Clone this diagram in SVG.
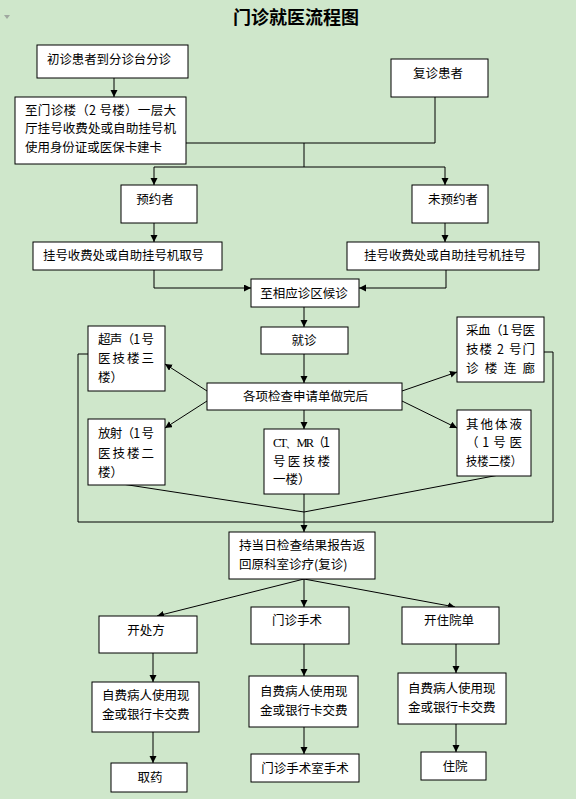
<svg xmlns="http://www.w3.org/2000/svg" width="576" height="799" viewBox="0 0 576 799">
<style>
.bg{fill:#cfe7cb}
.box{fill:#ffffff;stroke:#000000;stroke-width:1}
.t{font-family:"Noto Sans CJK SC","Liberation Sans",sans-serif;font-size:12.5px;fill:#000000}
.c{text-anchor:middle}
.title{font-family:"Noto Sans CJK SC","Liberation Sans",sans-serif;font-size:18px;font-weight:bold;fill:#000000;text-anchor:middle}
.ln{fill:none;stroke:#000000;stroke-width:1}
.ar{fill:none;stroke:#000000;stroke-width:1;marker-end:url(#ah)}
</style>
<defs>
<marker id="ah" markerUnits="userSpaceOnUse" markerWidth="8" markerHeight="8" refX="7" refY="3.5" orient="auto">
<path d="M0,0 L7,3.5 L0,7 Z" fill="#000000"/>
</marker>
</defs>
<rect class="bg" x="0" y="0" width="576" height="799"/>
<polygon points="4,15 10,15 7,19" fill="#a0a8a0"/>
<text class="title" x="296" y="24">门诊就医流程图</text>

<g id="connectors">
<line class="ar" x1="114" y1="78" x2="114" y2="97"/>
<polyline class="ln" points="186,143 435,143 435,97"/>
<line class="ln" x1="304" y1="143" x2="304" y2="167"/>
<line class="ln" x1="154" y1="167" x2="445" y2="167"/>
<line class="ar" x1="154" y1="167" x2="154" y2="185"/>
<line class="ar" x1="445" y1="167" x2="445" y2="185"/>
<line class="ar" x1="154" y1="223" x2="154" y2="242"/>
<line class="ar" x1="445" y1="223" x2="445" y2="242"/>
<polyline class="ar" points="154,270 154,288 251,288"/>
<polyline class="ar" points="446,270 446,288 359,288"/>
<line class="ar" x1="304" y1="307" x2="304" y2="327"/>
<line class="ar" x1="304" y1="354" x2="304" y2="383"/>
<line class="ar" x1="207" y1="391" x2="165" y2="364"/>
<line class="ar" x1="207" y1="401" x2="165" y2="428"/>
<line class="ar" x1="304" y1="410" x2="304" y2="429"/>
<line class="ar" x1="402" y1="391" x2="457" y2="372"/>
<line class="ar" x1="402" y1="401" x2="457" y2="428"/>
<line class="ln" x1="122" y1="484" x2="304" y2="512"/>
<line class="ln" x1="499" y1="475" x2="304" y2="512"/>
<polyline class="ln" points="88,354 78,354 78,522 553,522 553,352 544,352"/>
<line class="ar" x1="304" y1="494" x2="304" y2="532"/>
<line class="ar" x1="304" y1="579" x2="157" y2="616"/>
<line class="ar" x1="304" y1="579" x2="304" y2="607"/>
<line class="ar" x1="304" y1="579" x2="455" y2="607"/>
<line class="ar" x1="153" y1="653" x2="153" y2="682"/>
<line class="ar" x1="304" y1="644" x2="304" y2="676"/>
<line class="ar" x1="456" y1="644" x2="456" y2="673"/>
<line class="ar" x1="153" y1="732" x2="153" y2="763"/>
<line class="ar" x1="304" y1="727" x2="304" y2="754"/>
<line class="ar" x1="456" y1="724" x2="456" y2="752"/>
</g>

<g id="n-chuzhen">
<rect class="box" x="37" y="45" width="151" height="33"/>
<text class="t" x="47" y="64" textLength="124" lengthAdjust="spacingAndGlyphs">初诊患者到分诊台分诊</text>
</g>
<g id="n-fuzhen">
<rect class="box" x="391" y="59" width="97" height="38"/>
<text class="t c" x="438" y="78">复诊患者</text>
</g>
<g id="n-jianka">
<rect class="box" x="15" y="97" width="171" height="67"/>
<text class="t" x="25" y="115" textLength="151" lengthAdjust="spacing">至门诊楼（2 号楼）一层大</text>
<text class="t" x="25" y="133" textLength="151" lengthAdjust="spacingAndGlyphs">厅挂号收费处或自助挂号机</text>
<text class="t" x="25" y="152" textLength="137" lengthAdjust="spacingAndGlyphs">使用身份证或医保卡建卡</text>
</g>
<g id="n-yuyue">
<rect class="box" x="121" y="185" width="76" height="38"/>
<text class="t c" x="155" y="204">预约者</text>
</g>
<g id="n-weiyuyue">
<rect class="box" x="412" y="185" width="76" height="38"/>
<text class="t c" x="453" y="204">未预约者</text>
</g>
<g id="n-quhao">
<rect class="box" x="33" y="242" width="189" height="28"/>
<text class="t" x="43" y="260" textLength="161" lengthAdjust="spacingAndGlyphs">挂号收费处或自助挂号机取号</text>
</g>
<g id="n-guahao">
<rect class="box" x="347" y="242" width="192" height="28"/>
<text class="t" x="364" y="260" textLength="162" lengthAdjust="spacingAndGlyphs">挂号收费处或自助挂号机挂号</text>
</g>
<g id="n-houzhen">
<rect class="box" x="251" y="279" width="108" height="28"/>
<text class="t c" x="304" y="298">至相应诊区候诊</text>
</g>
<g id="n-jiuzhen">
<rect class="box" x="261" y="327" width="87" height="27"/>
<text class="t c" x="304" y="345">就诊</text>
</g>
<g id="n-jiancha">
<rect class="box" x="207" y="383" width="195" height="27"/>
<text class="t" x="243" y="401" textLength="125" lengthAdjust="spacingAndGlyphs">各项检查申请单做完后</text>
</g>
<g id="n-chaosheng">
<rect class="box" x="88" y="326" width="77" height="65"/>
<text class="t" x="98" y="344" textLength="56" lengthAdjust="spacing">超声（1 号</text>
<text class="t" x="98" y="363" textLength="56" lengthAdjust="spacing">医技楼三</text>
<text class="t" x="98" y="382">楼）</text>
</g>
<g id="n-fangshe">
<rect class="box" x="88" y="419" width="77" height="66"/>
<text class="t" x="98" y="438" textLength="56" lengthAdjust="spacing">放射（1 号</text>
<text class="t" x="98" y="458" textLength="56" lengthAdjust="spacing">医技楼二</text>
<text class="t" x="98" y="477">楼）</text>
</g>
<g id="n-ctmr">
<rect class="box" x="264" y="429" width="75" height="65"/>
<text class="t" x="273" y="447" textLength="57" lengthAdjust="spacing"><tspan font-family="Liberation Serif">CT、MR</tspan>（1</text>
<text class="t" x="273" y="466" textLength="57" lengthAdjust="spacing">号医技楼</text>
<text class="t" x="273" y="484">一楼）</text>
</g>
<g id="n-caixue">
<rect class="box" x="457" y="317" width="87" height="65"/>
<text class="t" x="466" y="335" textLength="69" lengthAdjust="spacing">采血（1 号医</text>
<text class="t" x="466" y="354" textLength="69" lengthAdjust="spacing">技楼 2 号门</text>
<text class="t" x="466" y="373" textLength="69" lengthAdjust="spacing">诊楼连廊</text>
</g>
<g id="n-tiye">
<rect class="box" x="457" y="410" width="74" height="66"/>
<text class="t" x="466" y="429" textLength="56" lengthAdjust="spacing">其他体液</text>
<text class="t" x="466" y="447" textLength="56" lengthAdjust="spacing">（ 1 号 医</text>
<text class="t" x="466" y="466" textLength="56" lengthAdjust="spacingAndGlyphs">技楼二楼）</text>
</g>
<g id="n-fanhui">
<rect class="box" x="229" y="532" width="146" height="47"/>
<text class="t" x="239" y="550" textLength="126" lengthAdjust="spacingAndGlyphs">持当日检查结果报告返</text>
<text class="t" x="239" y="569">回原科室诊疗(复诊)</text>
</g>
<g id="n-kaichufang">
<rect class="box" x="99" y="616" width="98" height="37"/>
<text class="t c" x="146" y="635">开处方</text>
</g>
<g id="n-shoushu">
<rect class="box" x="251" y="607" width="98" height="37"/>
<text class="t c" x="297" y="625">门诊手术</text>
</g>
<g id="n-zhuyuandan">
<rect class="box" x="402" y="607" width="97" height="37"/>
<text class="t c" x="449" y="625">开住院单</text>
</g>
<g id="n-jiaofei1">
<rect class="box" x="92" y="682" width="107" height="50"/>
<text class="t" x="102" y="700">自费病人使用现</text>
<text class="t" x="102" y="719">金或银行卡交费</text>
</g>
<g id="n-jiaofei2">
<rect class="box" x="249" y="676" width="109" height="51"/>
<text class="t" x="260" y="696">自费病人使用现</text>
<text class="t" x="260" y="715">金或银行卡交费</text>
</g>
<g id="n-jiaofei3">
<rect class="box" x="398" y="673" width="108" height="51"/>
<text class="t" x="408" y="693">自费病人使用现</text>
<text class="t" x="408" y="712">金或银行卡交费</text>
</g>
<g id="n-quyao">
<rect class="box" x="111" y="763" width="76" height="29"/>
<text class="t c" x="150" y="782">取药</text>
</g>
<g id="n-shoushushi">
<rect class="box" x="251" y="754" width="108" height="28"/>
<text class="t c" x="305" y="773">门诊手术室手术</text>
</g>
<g id="n-zhuyuan">
<rect class="box" x="421" y="752" width="65" height="28"/>
<text class="t c" x="455" y="771">住院</text>
</g>
</svg>
